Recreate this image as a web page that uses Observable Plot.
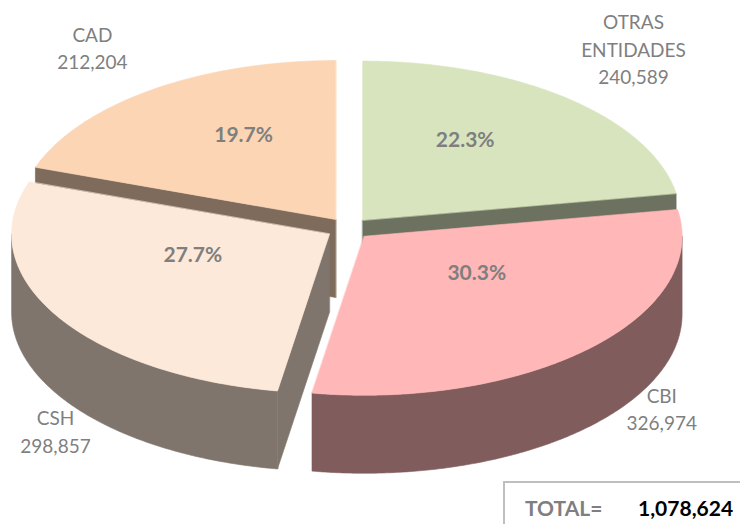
<!DOCTYPE html>
<html>
<head>
<meta charset="utf-8">
<script src="https://cdn.jsdelivr.net/npm/d3@7"></script>
<script src="https://cdn.jsdelivr.net/npm/@observablehq/plot@0.6"></script>
<style>
  body { margin: 0; background: #fff; }
  #wrap { position: relative; width: 740px; height: 524px; overflow: hidden; font-family: Lato, "Open Sans", sans-serif; }
  #total { position: absolute; left: 503px; top: 481px; width: 270px; height: 70px; border: 2px solid #bfbfbf; box-sizing: border-box; }
  #total span { position: absolute; top: 12px; font-size: 21px; font-weight: bold; line-height: 25px; white-space: nowrap; }
  #total .k { left: 20px; color: #7f7f7f; }
  #total .v { left: 133px; color: #000; }
</style>
</head>
<body>
<div id="wrap"></div>
<script>
// ---- data ----
const categories = ["OTRAS ENTIDADES", "CBI", "CSH", "CAD"];
const labelLines = [["OTRAS", "ENTIDADES"], ["CBI"], ["CSH"], ["CAD"]];
const values = [240589, 326974, 298857, 212204];
const totalLabel = "TOTAL=";

// ---- styles / layout ----
const palette = ["#d8e4bd", "#ffb7b7", "#fde9d9", "#fcd5b5"];
const darken = c => { const r = d3.rgb(c); return d3.rgb(r.r * 0.5, r.g * 0.5, r.b * 0.5).formatHex(); };
const W = 740, H = 524;
const cx0 = 348, cy0 = 228, rx = 318, ry = 159, depth = 78, explode = 22;
const labelSize = 19, labelLH = 1.45;
const fmt = d3.format(",");
const total = d3.sum(values);

let acc = 0;
const slices = values.map((v, i) => {
  const a0 = acc / total * 360; acc += v;
  const a1 = acc / total * 360;
  const m = (a0 + a1) / 2, r = m * Math.PI / 180;
  const lines = [...labelLines[i], fmt(v)];
  return {
    i, v, a0, a1, m,
    cx: cx0 + explode * Math.sin(r),
    cy: cy0 - explode * Math.cos(r) * ry / rx,
    name: categories[i],
    pct: (v / total * 100).toFixed(1) + "%",
    nLines: lines.length,
    label: lines.join("\n")
  };
});

const pt = (s, a, dz = 0) => { const r = a * Math.PI / 180; return {x: s.cx + rx * Math.sin(r), y: s.cy - ry * Math.cos(r) + dz}; };
const arc = (s, a0, a1, dz) => { const n = Math.max(2, Math.ceil((a1 - a0) / 0.5)); return d3.range(n + 1).map(k => pt(s, a0 + (a1 - a0) * k / n, dz)); };
const sinD = a => Math.sin(a * Math.PI / 180);
const cosD = a => Math.cos(a * Math.PI / 180);

const faces = [];
for (const idx of [0, 3, 2, 1]) {
  const s = slices[idx];
  const top = palette[idx], side = darken(palette[idx]);
  const c = {x: s.cx, y: s.cy}, cd = {x: s.cx, y: s.cy + depth};
  if (sinD(s.a0) < -1e-9) faces.push({fill: side, pts: [c, pt(s, s.a0), pt(s, s.a0, depth), cd]});
  if (sinD(s.a1) > 1e-9) faces.push({fill: side, pts: [c, pt(s, s.a1), pt(s, s.a1, depth), cd]});
  const lo = Math.max(s.a0, 90), hi = Math.min(s.a1, 270);
  if (lo < hi) faces.push({fill: side, pts: [...arc(s, lo, hi, 0), ...arc(s, lo, hi, depth).reverse()]});
  faces.push({fill: top, pts: [c, ...arc(s, s.a0, s.a1, 0)]});
}

// outside labels: back slices along a label ellipse, front slices just below the pie's side
const clamp = (v, a, b) => Math.max(a, Math.min(b, v));
const labX = s => clamp(s.cx + 420 * sinD(s.m), 55, 677);
const labY = s => {
  const c = cosD(s.m);
  if (c >= 0) return Math.max(46, s.cy - 225 * c);
  const u = (labX(s) - s.cx) / rx;
  const bottom = s.cy + ry * Math.sqrt(Math.max(0, 1 - u * u)) + depth;
  return bottom + 10 + s.nLines * labelSize * labelLH / 2;
};

const chart = Plot.plot({
  width: W, height: H,
  margin: 0,
  x: {domain: [0, W], range: [0, W], axis: null},
  y: {domain: [0, H], range: [0, H], axis: null},
  style: {fontFamily: "Lato, 'Open Sans', sans-serif", background: "transparent"},
  marks: [
    ...faces.map(f => Plot.line(f.pts, {x: "x", y: "y", fill: f.fill, stroke: f.fill, strokeWidth: 0.6, curve: "linear-closed"})),
    Plot.text(slices, {
      x: s => s.cx + 0.5 * rx * sinD(s.m),
      y: s => s.cy - 0.5 * ry * cosD(s.m) - 19,
      text: "pct", fill: "#7f7f7f", fontWeight: "bold", fontSize: 21
    }),
    Plot.text(slices, {
      x: labX, y: labY, text: "label", fill: "#7f7f7f", fontSize: labelSize, lineHeight: labelLH, lineAnchor: "middle"
    })
  ]
});

const wrap = document.getElementById("wrap");
wrap.appendChild(chart);
const box = document.createElement("div");
box.id = "total";
box.innerHTML = `<span class="k">${totalLabel}</span><span class="v">${fmt(total)}</span>`;
wrap.appendChild(box);
</script>
</body>
</html>
